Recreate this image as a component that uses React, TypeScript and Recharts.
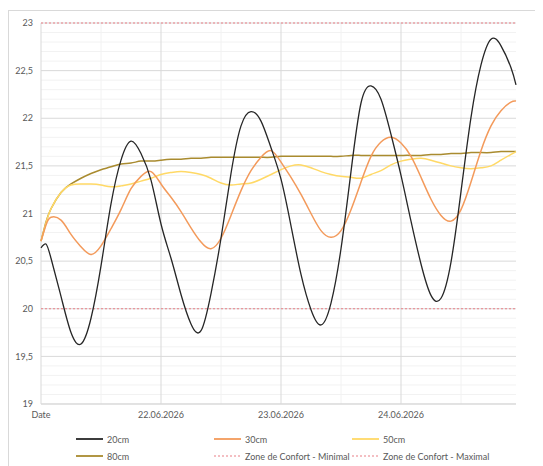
import { LineChart, Line, XAxis, YAxis, ReferenceLine } from 'recharts';

// hours since the start of 21.06.2026
const hours = [
  0, 1, 2, 4, 6, 8, 10, 12, 14, 16, 18, 20, 22, 24, 26, 28, 30, 32, 34, 36, 38, 40, 42, 44, 46,
  48, 50, 52, 54, 56, 58, 60, 62, 64, 66, 68, 70, 72, 74, 76, 78, 80, 82, 84, 86, 88, 90, 92, 94, 95,
];

const t20 = [
  20.64, 20.68, 20.53, 20.13, 19.75, 19.63, 19.9, 20.45, 21.1, 21.56, 21.76, 21.63, 21.35, 20.89, 20.53, 20.15, 19.84,
  19.77, 20.16, 20.74, 21.42, 21.92, 22.07, 21.97, 21.69, 21.36, 20.87, 20.36, 19.99, 19.83, 20.06, 20.63, 21.44,
  22.16, 22.34, 22.2, 21.83, 21.4, 20.92, 20.47, 20.14, 20.11, 20.49, 21.23, 22.01, 22.56, 22.83, 22.76, 22.53, 22.35,
];
const t30 = [
  20.71, 20.88, 20.96, 20.93, 20.78, 20.65, 20.57, 20.66, 20.84, 21.04, 21.26, 21.39, 21.44, 21.31, 21.17, 21.02, 20.85,
  20.7, 20.63, 20.74, 20.98, 21.24, 21.45, 21.59, 21.66, 21.54, 21.38, 21.2, 21.0, 20.82, 20.75, 20.82, 21.04,
  21.33, 21.6, 21.75, 21.8, 21.74, 21.6, 21.38, 21.15, 20.98, 20.92, 21.04, 21.33, 21.66, 21.92, 22.08, 22.17, 22.18,
];
const t50 = [
  20.71, 20.9, 21.05, 21.22, 21.3, 21.31, 21.31, 21.3, 21.28, 21.29, 21.31, 21.34, 21.37, 21.41, 21.43, 21.44, 21.43,
  21.41, 21.37, 21.32, 21.3, 21.31, 21.32, 21.36, 21.41, 21.46, 21.5, 21.51, 21.48, 21.44, 21.41, 21.39, 21.38,
  21.37, 21.41, 21.45, 21.51, 21.55, 21.57, 21.58, 21.56, 21.53, 21.5, 21.48, 21.47, 21.48, 21.5, 21.56, 21.62, 21.65,
];
const t80 = [
  20.71, 20.91, 21.05, 21.22, 21.31, 21.37, 21.42, 21.46, 21.49, 21.52, 21.53, 21.55, 21.55, 21.56, 21.57, 21.57, 21.58,
  21.58, 21.59, 21.59, 21.59, 21.59, 21.59, 21.59, 21.59, 21.6, 21.6, 21.6, 21.6, 21.6, 21.6, 21.6, 21.61,
  21.61, 21.61, 21.61, 21.61, 21.61, 21.61, 21.61, 21.62, 21.62, 21.63, 21.63, 21.64, 21.64, 21.64, 21.65, 21.65, 21.65,
];

const comfortMin = 20;
const comfortMax = 23;

const dateTicks = [0, 24, 48, 72];
const dateLabels = ['Date', '22.06.2026', '23.06.2026', '24.06.2026'];
const halfDays = [12, 36, 60, 84];
const yTicks = [19, 19.5, 20, 20.5, 21, 21.5, 22, 22.5, 23];

const data = hours.map((h, i) => ({ h, t20: t20[i], t30: t30[i], t50: t50[i], t80: t80[i] }));

const minorY: number[] = [];
for (let k = 191; k < 230; k++) if (k % 5 !== 0) minorY.push(k / 10);

const FONT = 'Lato, "Open Sans", sans-serif';
const TEXT = '#595959';
const RED = '#ea7f86';

const legendItems = [
  { name: '20cm', color: '#262626', dash: undefined },
  { name: '30cm', color: '#f39a5b', dash: undefined },
  { name: '50cm', color: '#ffd966', dash: undefined },
  { name: '80cm', color: '#a98b2f', dash: undefined },
  { name: 'Zone de Confort - Minimal', color: RED, dash: '2 2' },
  { name: 'Zone de Confort - Maximal', color: RED, dash: '2 2' },
];

export default function App() {
  const tick = { fill: TEXT, fontSize: 9, fontFamily: FONT };
  return (
    <div style={{ position: 'relative', width: 535, height: 458, fontFamily: FONT }}>
      <div
        style={{
          position: 'absolute', left: 0, top: 2, right: 0, bottom: 0,
          borderTop: '1px solid #d9d9d9', borderLeft: '1px solid #d9d9d9',
        }}
      />
      <LineChart width={535} height={420} data={data} margin={{ top: 15, right: 27, left: 9, bottom: 4 }}>
        {minorY.map((v) => (
          <ReferenceLine key={'m' + v} y={v} stroke="#f2f2f2" />
        ))}
        {halfDays.map((v) => (
          <ReferenceLine key={'hd' + v} x={v} stroke="#f2f2f2" />
        ))}
        {yTicks.map((v) => (
          <ReferenceLine key={'y' + v} y={v} stroke="#d9d9d9" />
        ))}
        {dateTicks.map((v) => (
          <ReferenceLine key={'d' + v} x={v} stroke="#d9d9d9" />
        ))}
        <XAxis
          dataKey="h"
          type="number"
          domain={[0, 95]}
          ticks={dateTicks}
          tickFormatter={(v) => dateLabels[dateTicks.indexOf(v)] ?? ''}
          tick={tick}
          tickSize={0}
          tickMargin={8}
          height={20}
          axisLine={{ stroke: '#d9d9d9' }}
          interval={0}
        />
        <YAxis
          type="number"
          domain={[19, 23]}
          ticks={yTicks}
          tickFormatter={(v) => String(v).replace('.', ',')}
          tick={tick}
          tickSize={0}
          tickMargin={8}
          width={24}
          axisLine={false}
          interval={0}
        />
        <ReferenceLine y={comfortMin} stroke={RED} strokeDasharray="2 2" />
        <ReferenceLine y={comfortMax} stroke={RED} strokeDasharray="2 2" />
        <Line type="natural" dataKey="t80" name="80cm" stroke="#a98b2f" strokeWidth={1.5} dot={false} isAnimationActive={false} />
        <Line type="natural" dataKey="t50" name="50cm" stroke="#ffd966" strokeWidth={1.5} dot={false} isAnimationActive={false} />
        <Line type="natural" dataKey="t30" name="30cm" stroke="#f39a5b" strokeWidth={1.5} dot={false} isAnimationActive={false} />
        <Line type="natural" dataKey="t20" name="20cm" stroke="#262626" strokeWidth={1.3} dot={false} isAnimationActive={false} />
      </LineChart>
      <div
        style={{
          position: 'absolute', left: 68, top: 424, width: 420,
          display: 'grid', gridTemplateColumns: '138px 138px 150px', rowGap: 3,
          fontSize: 9, color: TEXT,
        }}
      >
        {legendItems.map((it) => (
          <div key={it.name} style={{ display: 'flex', alignItems: 'center', height: 14, whiteSpace: 'nowrap' }}>
            <svg width={30} height={6} style={{ marginRight: 1 }}>
              <line x1={0} y1={3} x2={27} y2={3} stroke={it.color} strokeWidth={it.dash ? 1.2 : 1.8} strokeDasharray={it.dash} />
            </svg>
            {it.name}
          </div>
        ))}
      </div>
    </div>
  );
}
